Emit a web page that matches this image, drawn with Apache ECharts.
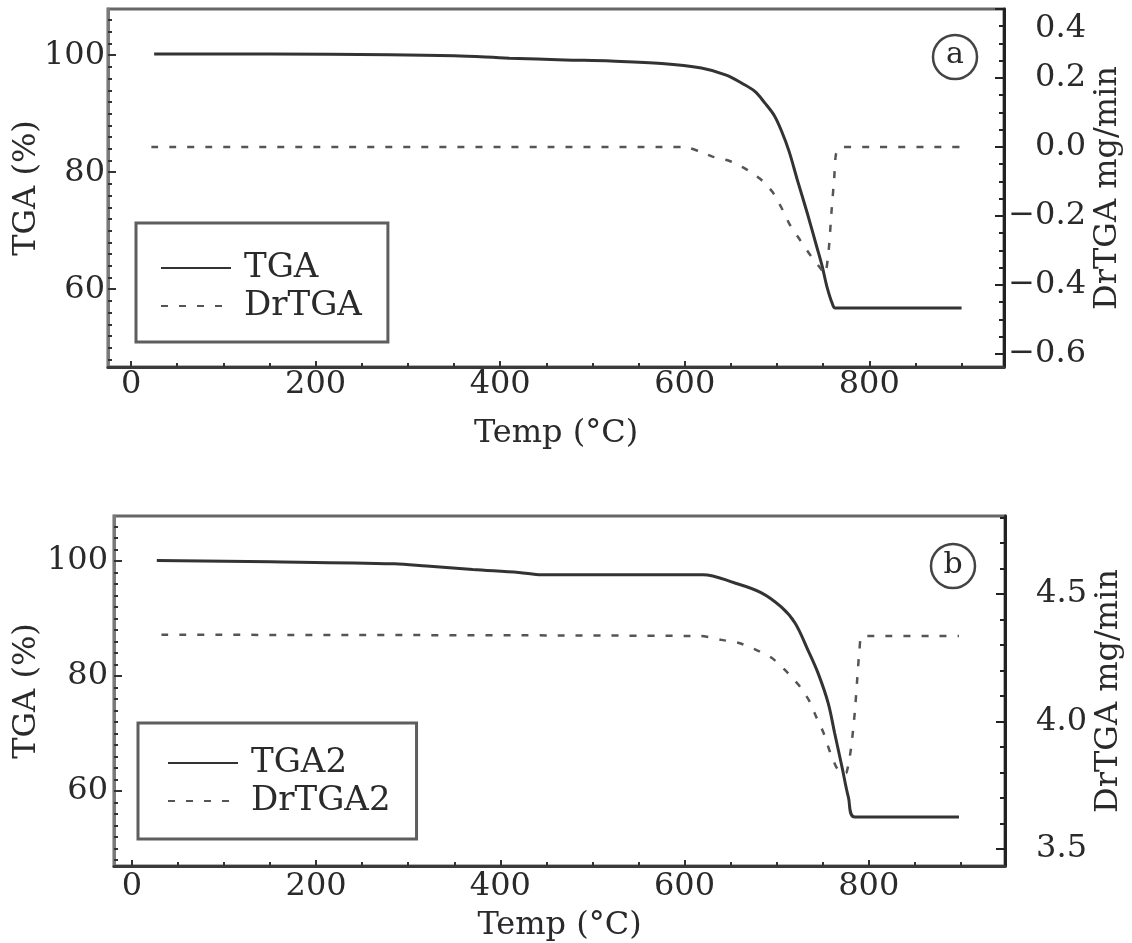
<!DOCTYPE html>
<html>
<head>
<meta charset="utf-8">
<script src="https://cdn.jsdelivr.net/npm/echarts@6/dist/echarts.min.js"></script>
<style>
  html, body { margin: 0; padding: 0; background: #fff; }
  #chart { width: 1132px; height: 943px; }
</style>
</head>
<body>
<div id="chart"></div>
<script>
// panel (a)
const tempTgaA = [25, 150, 280, 350, 410, 470, 520, 575, 618, 645, 662, 676, 687, 697, 705, 713, 722, 733, 743, 749, 754, 760, 763, 900];
const tgaA     = [100.2, 100.2, 100.1, 99.9, 99.5, 99.2, 99.0, 98.6, 97.8, 96.6, 95.2, 93.8, 91.8, 89.7, 87.0, 83.6, 78.7, 72.9, 67.3, 63.9, 60.5, 57.5, 56.8, 56.8];
const tempDrA  = [22, 600, 615, 630, 648, 665, 682, 695, 705, 714, 725, 736, 746, 752, 756, 759, 762, 764, 770, 900];
const drtgaA   = [0, 0, -0.012, -0.028, -0.040, -0.062, -0.093, -0.13, -0.177, -0.226, -0.27, -0.313, -0.348, -0.368, -0.30, -0.19, -0.09, -0.02, 0, 0];

// panel (b)
const tempTgaB = [27, 150, 285, 320, 370, 420, 445, 620, 654, 683, 705, 720, 734, 745, 756, 763, 771, 778, 785, 898];
const tgaB     = [100.05, 99.85, 99.5, 99.1, 98.5, 98.0, 97.6, 97.6, 96.2, 94.5, 92.0, 89.2, 84.5, 80.5, 75.3, 70.1, 64.2, 58.9, 55.5, 55.5];
const tempDrB  = [32, 618, 640, 659, 676, 695, 709, 724, 735, 743, 751, 758, 765, 771, 776, 781, 785, 788, 790, 793, 898];
const drtgaB   = [4.34, 4.335, 4.32, 4.308, 4.284, 4.249, 4.202, 4.143, 4.084, 4.018, 3.955, 3.88, 3.82, 3.795, 3.80, 3.90, 4.04, 4.19, 4.28, 4.335, 4.335];

// ticks
const xMajor = [0, 200, 400, 600, 800];
const tgaMajor = [60, 80, 100];
const drMajorA = [-0.6, -0.4, -0.2, 0.0, 0.2, 0.4];
const drMajorB = [3.5, 4.0, 4.5];

function range(a, b, step) {
  const out = [];
  for (let v = a; v <= b + 1e-9; v += step) out.push(Math.round(v * 1000) / 1000);
  return out;
}
function pairs(xs, ys) { return xs.map((x, i) => [x, ys[i]]); }

const FONT = 'DejaVu Serif';
const TXT = '#2a2a2a';
const fmt1 = v => (+v).toFixed(1).replace('-', '\u2212');

function xAxes(grid, min, max, labelMargin, nameGap) {
  return [
    {
      type: 'value', gridIndex: grid, min: min, max: max, position: 'bottom',
      name: 'Temp (°C)', nameLocation: 'middle', nameGap: nameGap, nameMoveOverlap: false,
      nameTextStyle: { fontFamily: FONT, fontSize: 32, color: TXT },
      axisLine: { show: true, onZero: false, lineStyle: { color: '#3a3a3a', width: 3 } },
      axisTick: { inside: true, length: 6, customValues: xMajor, lineStyle: { color: '#333', width: 2 } },
      axisLabel: { customValues: xMajor, fontFamily: FONT, fontSize: 32, color: TXT, margin: labelMargin },
      splitLine: { show: false }
    },
    {
      type: 'value', gridIndex: grid, min: min, max: max, position: 'bottom',
      axisLine: { show: false, onZero: false },
      axisTick: { inside: true, length: 4, customValues: range(0, 900, 50), lineStyle: { color: '#333', width: 2 } },
      axisLabel: { show: false },
      splitLine: { show: false }
    }
  ];
}

function yAxes(grid, lmin, lmax, lMargin, lGap, rmin, rmax, rMajor, rMinor, rName, rFormatter) {
  return [
    {
      type: 'value', gridIndex: grid, min: lmin, max: lmax, position: 'left',
      name: 'TGA (%)', nameLocation: 'middle', nameGap: lGap, nameMoveOverlap: false,
      nameTextStyle: { fontFamily: FONT, fontSize: 32, color: TXT },
      axisLine: { show: true, onZero: false, lineStyle: { color: '#7a7a7a', width: 3 } },
      axisTick: { inside: true, length: 8, customValues: tgaMajor, lineStyle: { color: '#333', width: 2 } },
      axisLabel: { customValues: tgaMajor, fontFamily: FONT, fontSize: 32, color: TXT, margin: lMargin },
      splitLine: { show: false }
    },
    {
      type: 'value', gridIndex: grid, min: lmin, max: lmax, position: 'left',
      axisLine: { show: false, onZero: false },
      axisTick: { inside: true, length: 4, customValues: range(48, 106, 2), lineStyle: { color: '#333', width: 2 } },
      axisLabel: { show: false },
      splitLine: { show: false }
    },
    {
      type: 'value', gridIndex: grid, min: rmin, max: rmax, position: 'right',
      name: rName, nameLocation: 'middle', nameGap: 88, nameMoveOverlap: false,
      nameTextStyle: { fontFamily: FONT, fontSize: 32, color: TXT },
      axisLine: { show: true, onZero: false, lineStyle: { color: '#222', width: 3 } },
      axisTick: { inside: true, length: 9, customValues: rMajor, lineStyle: { color: '#222', width: 2 } },
      axisLabel: {
        customValues: rMajor, fontFamily: FONT, fontSize: 32, color: TXT,
        align: 'right', margin: 82, formatter: rFormatter,
        rich: { low: { fontFamily: FONT, fontSize: 32, color: TXT, padding: [40, 0, 0, 0] } }
      },
      splitLine: { show: false }
    },
    {
      type: 'value', gridIndex: grid, min: rmin, max: rmax, position: 'right',
      axisLine: { show: false, onZero: false },
      axisTick: { inside: true, length: 5, customValues: rMinor, lineStyle: { color: '#222', width: 2 } },
      axisLabel: { show: false },
      splitLine: { show: false }
    }
  ];
}

function legendFor(names, left, top, padding) {
  return {
    data: names,
    orient: 'vertical', left: left, top: top,
    itemWidth: 70, itemHeight: 14, itemGap: 0,
    padding: padding, backgroundColor: '#fff',
    borderColor: '#5e5e5e', borderWidth: 3, borderRadius: 0,
    selectedMode: false,
    itemStyle: { opacity: 0 },
    textStyle: { fontFamily: FONT, fontSize: 34, color: TXT, lineHeight: 38, padding: [0, 0, 0, 8] }
  };
}

const solid = { color: '#333', width: 3 };
const dashed = { color: '#555', width: 2.5, type: [7, 11] };

function lineSeries(name, xi, yi, data, style, smooth) {
  return {
    name: name, type: 'line', xAxisIndex: xi, yAxisIndex: yi, data: data,
    symbol: 'none', smooth: smooth,
    itemStyle: { color: style.color },
    lineStyle: style, animation: false
  };
}

const chart = echarts.init(document.getElementById('chart'));
chart.setOption({
  backgroundColor: '#fff',
  animation: false,
  grid: [
    { left: 108, right: 128, top: 9, height: 358, outerBoundsMode: 'none', show: true, borderColor: '#666', borderWidth: 3, backgroundColor: 'transparent' },
    { left: 114, right: 127, top: 516, height: 350, outerBoundsMode: 'none', show: true, borderColor: '#666', borderWidth: 3, backgroundColor: 'transparent' }
  ],
  xAxis: [].concat(
    xAxes(0, -25, 946, 2, 51),
    xAxes(1, -19.5, 948, 5, 44)
  ),
  yAxis: [].concat(
    yAxes(0, 46.7, 107.9, 3, 65, -0.638, 0.4, drMajorA, range(-0.6, 0.35, 0.05), 'DrTGA mg/min',
      v => (Math.abs(v - 0.4) < 1e-6 ? '{low|0.4}' : fmt1(v))),
    yAxes(1, 47.0, 107.8, 6, 71, 3.433, 4.806, drMajorB, range(3.5, 4.8, 0.1), 'DrTGA mg/min', fmt1)
  ),
  legend: [
    legendFor(['TGA', 'DrTGA'], 136, 223, [26, 26, 17, 24]),
    legendFor(['TGA2', 'DrTGA2'], 138, 723, [21, 26, 19, 29])
  ],
  series: [
    lineSeries('TGA', 0, 0, pairs(tempTgaA, tgaA), solid, 0.35),
    lineSeries('DrTGA', 0, 2, pairs(tempDrA, drtgaA), dashed, 0.2),
    lineSeries('TGA2', 2, 4, pairs(tempTgaB, tgaB), solid, 0.35),
    lineSeries('DrTGA2', 2, 6, pairs(tempDrB, drtgaB), dashed, 0.2)
  ],
  graphic: [
    { type: 'circle', shape: { cx: 955, cy: 57, r: 22 }, style: { fill: 'none', stroke: '#444', lineWidth: 2.5 } },
    { type: 'text', style: { text: 'a', x: 955, y: 55, align: 'center', verticalAlign: 'middle', font: '30px "DejaVu Serif"', fill: TXT } },
    { type: 'circle', shape: { cx: 953, cy: 566, r: 22 }, style: { fill: 'none', stroke: '#444', lineWidth: 2.5 } },
    { type: 'text', style: { text: 'b', x: 953, y: 565, align: 'center', verticalAlign: 'middle', font: '30px "DejaVu Serif"', fill: TXT } }
  ]
});
</script>
</body>
</html>
